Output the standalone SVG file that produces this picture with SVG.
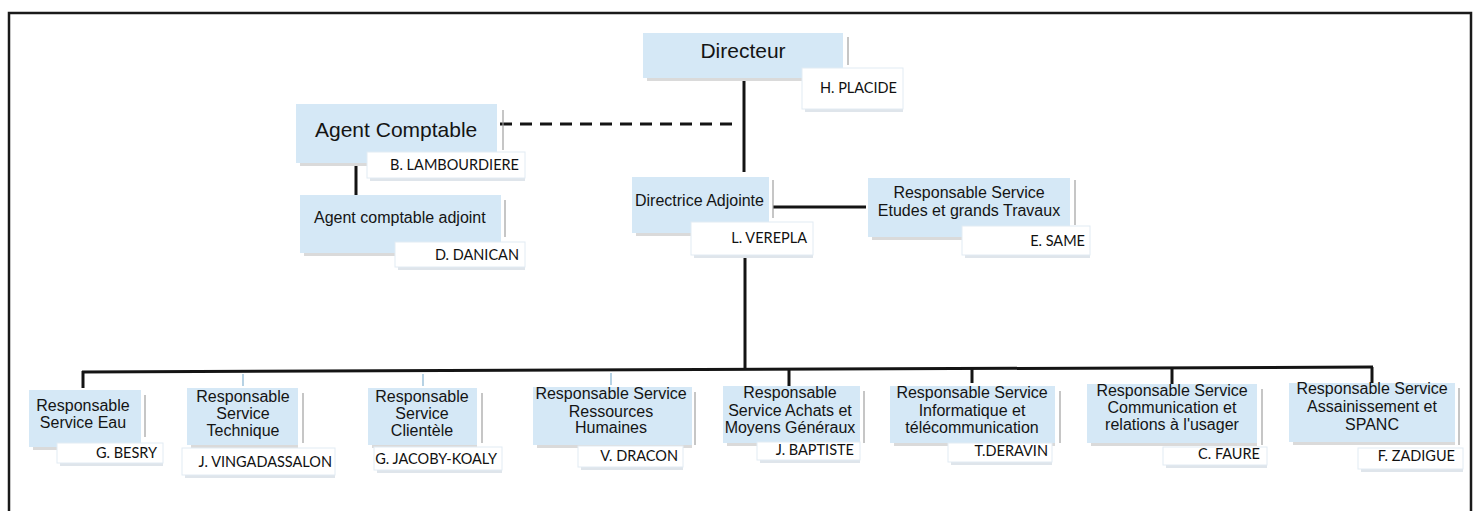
<svg xmlns="http://www.w3.org/2000/svg" width="1478" height="511" viewBox="0 0 1478 511">
<style>
.sh{fill:#dadada}
.blue{fill:#d5e8f6}
.nsh{fill:#dfe5eb}
.nm{fill:#ffffff;stroke:#e2ebf3;stroke-width:1}
.vl{stroke:#a0a0a0;stroke-width:1.2}
.t{font-family:"Liberation Sans",Arial,sans-serif;fill:#141414}
.big{font-size:21px}
.mid{font-size:16px}
.c{text-anchor:middle}
.n{font-family:Lato,"Liberation Sans",sans-serif;font-size:14.5px;fill:#111111;text-anchor:end}
.ln{stroke:#141414;stroke-width:3;fill:none}
.tick{stroke:#86b4d2;stroke-width:1.2}
</style>
<rect x="0" y="0" width="1478" height="511" fill="#ffffff"/>
<path d="M9 512 V13 H1471 V512" fill="none" stroke="#1a1a1a" stroke-width="2.5"/>

<g id="connectors">
<path class="ln" d="M744 79 V172"/>
<path class="ln" d="M500 124 H738" stroke-dasharray="12 8"/>
<path class="ln" d="M356 163 V197" stroke-width="2.5"/>
<path class="ln" d="M773 207 H866" stroke-width="2.5"/>
<path class="ln" d="M745 255 V370"/>
<path class="ln" d="M82 372 L1373 367"/>
<path class="ln" d="M83 371 V388"/>
<path class="ln" d="M789 368 V386"/>
<path class="ln" d="M972 368 V383"/>
<path class="ln" d="M1172 367 V384"/>
<path class="ln" d="M1372 367 V383"/>
<path class="tick" d="M243 374 V386"/>
<path class="tick" d="M423 374 V386"/>
<path class="tick" d="M611 373 V385"/>
</g>

<g id="directeur">
<rect class="sh" x="647" y="36" width="196" height="45"/>
<rect class="blue" x="643" y="33" width="200" height="45"/>
<line class="vl" x1="848" y1="37" x2="848" y2="65"/>
<rect class="nsh" x="805" y="71" width="98" height="41"/>
<rect class="nm" x="802" y="68" width="101" height="41"/>
<text class="t big c" x="743" y="58">Directeur</text>
<text class="n" x="897" y="93">H. PLACIDE</text>
</g>

<g id="agent-comptable">
<rect class="sh" x="300" y="107" width="197" height="59"/>
<rect class="blue" x="296" y="104" width="201" height="59"/>
<line class="vl" x1="503" y1="110" x2="503" y2="150"/>
<rect class="nsh" x="370" y="155" width="155" height="26"/>
<rect class="nm" x="367" y="152" width="158" height="26"/>
<text class="t big" x="315" y="137">Agent Comptable</text>
<text class="n" x="519" y="170">B. LAMBOURDIERE</text>
</g>

<g id="agent-comptable-adjoint">
<rect class="sh" x="304" y="198" width="197" height="58"/>
<rect class="blue" x="300" y="195" width="201" height="58"/>
<line class="vl" x1="505" y1="200" x2="505" y2="237"/>
<rect class="nsh" x="398" y="245" width="127" height="25"/>
<rect class="nm" x="395" y="242" width="130" height="25"/>
<text class="t mid" x="314" y="223">Agent comptable adjoint</text>
<text class="n" x="519" y="260">D. DANICAN</text>
</g>

<g id="directrice-adjointe">
<rect class="sh" x="636" y="180" width="133" height="56"/>
<rect class="blue" x="632" y="177" width="137" height="56"/>
<line class="vl" x1="773" y1="180" x2="773" y2="218"/>
<rect class="nsh" x="694" y="225" width="119" height="33"/>
<rect class="nm" x="691" y="222" width="122" height="33"/>
<text class="t mid" x="635" y="206">Directrice Adjointe</text>
<text class="n" x="807" y="243">L. VEREPLA</text>
</g>

<g id="etudes-travaux">
<rect class="sh" x="872" y="181" width="198" height="59"/>
<rect class="blue" x="868" y="178" width="202" height="59"/>
<line class="vl" x1="1075" y1="180" x2="1075" y2="225"/>
<rect class="nsh" x="965" y="229" width="125" height="29"/>
<rect class="nm" x="962" y="226" width="128" height="29"/>
<text class="t mid c" x="969" y="198">Responsable Service</text>
<text class="t mid c" x="969" y="216">Etudes et grands Travaux</text>
<text class="n" x="1085" y="246">E. SAME</text>
</g>

<g id="service-eau">
<rect class="sh" x="33" y="393" width="108" height="57"/>
<rect class="blue" x="29" y="390" width="112" height="57"/>
<line class="vl" x1="145" y1="395" x2="145" y2="437"/>
<rect class="nsh" x="60" y="446" width="103" height="20"/>
<rect class="nm" x="57" y="443" width="106" height="20"/>
<text class="t mid c" x="83" y="411">Responsable</text>
<text class="t mid c" x="83" y="428">Service Eau</text>
<text class="n" x="157" y="458">G. BESRY</text>
</g>

<g id="service-technique">
<rect class="sh" x="191" y="391" width="107" height="57"/>
<rect class="blue" x="187" y="388" width="111" height="57"/>
<line class="vl" x1="303" y1="393" x2="303" y2="443"/>
<rect class="nsh" x="185" y="451" width="150" height="27"/>
<rect class="nm" x="182" y="448" width="153" height="27"/>
<text class="t mid c" x="243" y="402">Responsable</text>
<text class="t mid c" x="243" y="419">Service</text>
<text class="t mid c" x="243" y="436">Technique</text>
<text class="n" x="332" y="467">J. VINGADASSALON</text>
</g>

<g id="service-clientele">
<rect class="sh" x="372" y="391" width="105" height="57"/>
<rect class="blue" x="368" y="388" width="109" height="57"/>
<line class="vl" x1="482" y1="393" x2="482" y2="443"/>
<rect class="nsh" x="377" y="450" width="125" height="23"/>
<rect class="nm" x="374" y="447" width="128" height="23"/>
<text class="t mid c" x="422" y="402">Responsable</text>
<text class="t mid c" x="422" y="419">Service</text>
<text class="t mid c" x="422" y="436">Clientèle</text>
<text class="n" x="497" y="464">G. JACOBY-KOALY</text>
</g>

<g id="service-rh">
<rect class="sh" x="537" y="390" width="155" height="58"/>
<rect class="blue" x="533" y="387" width="159" height="58"/>
<line class="vl" x1="695" y1="392" x2="695" y2="445"/>
<rect class="nsh" x="581" y="449" width="102" height="21"/>
<rect class="nm" x="578" y="446" width="105" height="21"/>
<text class="t mid c" x="611" y="399">Responsable Service</text>
<text class="t mid c" x="611" y="417">Ressources</text>
<text class="t mid c" x="611" y="433">Humaines</text>
<text class="n" x="678" y="461">V. DRACON</text>
</g>

<g id="service-achats">
<rect class="sh" x="727" y="389" width="133" height="57"/>
<rect class="blue" x="723" y="386" width="137" height="57"/>
<line class="vl" x1="864" y1="391" x2="864" y2="443"/>
<rect class="nsh" x="760" y="445" width="100" height="18"/>
<rect class="nm" x="757" y="442" width="103" height="18"/>
<text class="t mid c" x="790" y="398">Responsable</text>
<text class="t mid c" x="790" y="416">Service Achats et</text>
<text class="t mid c" x="790" y="433">Moyens Généraux</text>
<text class="n" x="854" y="455">J. BAPTISTE</text>
</g>

<g id="service-informatique">
<rect class="sh" x="894" y="389" width="161" height="57"/>
<rect class="blue" x="890" y="386" width="165" height="57"/>
<line class="vl" x1="1060" y1="391" x2="1060" y2="443"/>
<rect class="nsh" x="951" y="446" width="101" height="19"/>
<rect class="nm" x="948" y="443" width="104" height="19"/>
<text class="t mid c" x="972" y="398">Responsable Service</text>
<text class="t mid c" x="972" y="416">Informatique et</text>
<text class="t mid c" x="972" y="433">télécommunication</text>
<text class="n" x="1048" y="456">T.DERAVIN</text>
</g>

<g id="service-communication">
<rect class="sh" x="1091" y="387" width="166" height="59"/>
<rect class="blue" x="1087" y="384" width="170" height="59"/>
<line class="vl" x1="1262" y1="389" x2="1262" y2="445"/>
<rect class="nsh" x="1166" y="450" width="101" height="18"/>
<rect class="nm" x="1163" y="447" width="104" height="18"/>
<text class="t mid c" x="1172" y="396">Responsable Service</text>
<text class="t mid c" x="1172" y="413">Communication et</text>
<text class="t mid c" x="1172" y="430">relations à l'usager</text>
<text class="n" x="1260" y="459">C. FAURE</text>
</g>

<g id="service-assainissement">
<rect class="sh" x="1293" y="386" width="162" height="59"/>
<rect class="blue" x="1289" y="383" width="166" height="59"/>
<line class="vl" x1="1459" y1="388" x2="1459" y2="445"/>
<rect class="nsh" x="1361" y="451" width="102" height="21"/>
<rect class="nm" x="1358" y="448" width="105" height="21"/>
<text class="t mid c" x="1372" y="394">Responsable Service</text>
<text class="t mid c" x="1372" y="412">Assainissement et</text>
<text class="t mid c" x="1372" y="430">SPANC</text>
<text class="n" x="1455" y="461">F. ZADIGUE</text>
</g>
</svg>
